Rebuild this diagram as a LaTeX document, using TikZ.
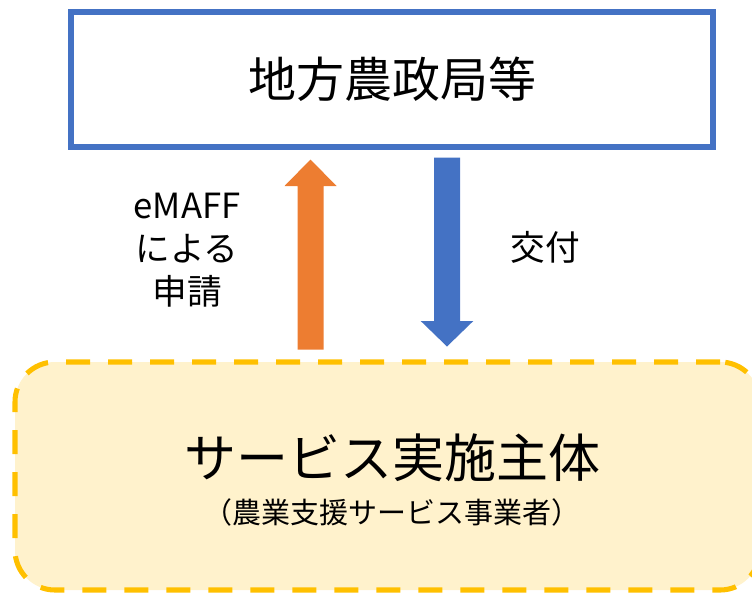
\documentclass[tikz,border=0pt]{standalone}
\usepackage{fontspec}
\setmainfont{Noto Sans CJK JP}
\usetikzlibrary{positioning}
\definecolor{bureaublue}{HTML}{4472C4}
\definecolor{requestorange}{HTML}{ED7D31}
\definecolor{dashyellow}{HTML}{FFC000}
\definecolor{paleyellow}{HTML}{FFF2CC}

\begin{document}
\begin{tikzpicture}[
    x=0.75pt, y=-0.75pt,
    bureau/.style={
        draw=bureaublue, line width=4.2pt,
        minimum width=481.5pt, minimum height=101pt,
        inner sep=0pt
    },
    provider/.style={
        draw=dashyellow, fill=paleyellow, line width=3.8pt,
        dash pattern=on 18pt off 13.5pt,
        rounded corners=30pt,
        minimum width=558.75pt, minimum height=171pt,
        inner sep=0pt
    },
    flowlabel/.style={
        font=\fontsize{26pt}{32pt}\selectfont,
        align=center, inner sep=0pt
    }
]
\useasboundingbox (0,0) rectangle (752,593);

% boxes
\node[bureau] (bureau) at (392,79.5) {};
\node[font=\fontsize{36pt}{40pt}\selectfont] (bureautext) at (392,79) {地方農政局等};

\node[provider] (provider) at (387.5,476) {};
\node[font=\fontsize{39pt}{44pt}\selectfont] (providertext) at (392,458) {サービス実施主体};
\node[font=\fontsize{21.75pt}{26pt}\selectfont] (providersub) at (392,512) {（農業支援サービス事業者）};

% block arrows
\coordinate (reqbase) at (310.5,349.5);
\coordinate (reqtip) at (310.5,159.5);
\fill[requestorange] (reqbase) -- ++(-13,0) -- ++(0,-163.5) -- ++(-13,0)
    -- (reqtip) -- ++(26,26.5) -- ++(-13,0) -- ++(0,163.5) -- cycle;

\coordinate (paytop) at (447,157.5);
\coordinate (paytip) at (447,346.5);
\fill[bureaublue] (paytop) -- ++(13,0) -- ++(0,163.5) -- ++(13.3,0)
    -- (paytip) -- ++(-26.3,-25.5) -- ++(13.3,0) -- ++(0,-163.5) -- cycle;

% labels
\node[flowlabel] (reqlabel) at (187,250) {eMAFF\\による\\申請};
\node[flowlabel] (paylabel) at (545,247) {交付};
\end{tikzpicture}
\end{document}
